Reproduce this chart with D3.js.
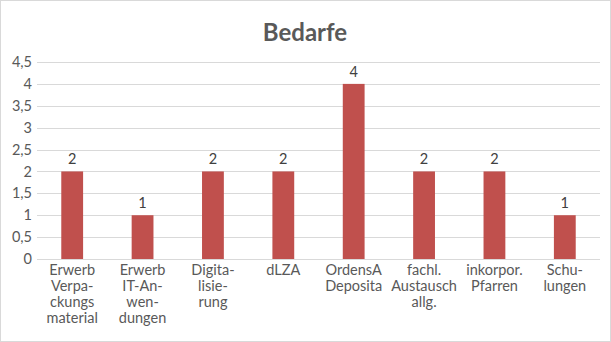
<!DOCTYPE html>
<html>
<head>
<meta charset="utf-8">
<script src="https://cdn.jsdelivr.net/npm/d3@7"></script>
<style>
  body { margin: 0; background: #fff; }
  svg { display: block; }
</style>
</head>
<body>
<svg id="chart" width="611" height="342"></svg>
<script>
var categories = ["Erwerb Verpackungsmaterial", "Erwerb IT-Anwendungen", "Digitalisierung", "dLZA",
    "OrdensA Deposita", "fachl. Austausch allg.", "inkorpor. Pfarren", "Schulungen"];
// wrapped label lines as they appear under the axis
var labelLines = [
    ["Erwerb", "Verpa-", "ckungs", "material"],
    ["Erwerb", "IT-An-", "wen-", "dungen"],
    ["Digita-", "lisie-", "rung"],
    ["dLZA"],
    ["OrdensA", "Deposita"],
    ["fachl.", "Austausch", "allg."],
    ["inkorpor.", "Pfarren"],
    ["Schu-", "lungen"]
];
var values = [2, 1, 2, 2, 4, 2, 2, 1];
var yTicks = [0, 0.5, 1, 1.5, 2, 2.5, 3, 3.5, 4, 4.5];

var svg = d3.select("#chart"), width = 611, height = 342;
var font = "Lato, 'Noto Sans', sans-serif";
var margin = {top: 62, right: 11, bottom: 83, left: 37};

svg.append("rect")
    .attr("x", 0.5).attr("y", 0.5)
    .attr("width", width - 1).attr("height", height - 1)
    .attr("fill", "#fff")
    .attr("stroke", "#d9d9d9");

svg.append("text")
    .attr("x", 305).attr("y", 41)
    .attr("text-anchor", "middle")
    .attr("font-family", font)
    .attr("font-size", 24)
    .attr("font-weight", "bold")
    .attr("fill", "#595959")
    .text("Bedarfe");

var x = d3.scaleBand()
    .domain(categories)
    .range([margin.left, width - margin.right])
    .paddingInner(0.69)
    .paddingOuter(0.345);

var y = d3.scaleLinear()
    .domain([0, 4.5])
    .range([height - margin.bottom, margin.top]);

var fmt = function (d) { return String(d).replace(".", ","); };

// gridlines
svg.append("g")
    .selectAll("line")
    .data(yTicks)
    .enter()
    .append("line")
    .attr("x1", margin.left).attr("x2", width - margin.right)
    .attr("y1", function (d) { return Math.round(y(d)) + 0.5; })
    .attr("y2", function (d) { return Math.round(y(d)) + 0.5; })
    .attr("stroke", "#d9d9d9")
    .attr("stroke-width", 1);

// y tick labels
svg.append("g")
    .selectAll("text")
    .data(yTicks)
    .enter()
    .append("text")
    .attr("x", margin.left - 5)
    .attr("y", function (d) { return y(d); })
    .attr("dy", "0.35em")
    .attr("text-anchor", "end")
    .attr("font-family", font)
    .attr("font-size", 14.5)
    .attr("fill", "#595959")
    .text(fmt);

// bars
svg.append("g")
    .selectAll("rect")
    .data(values)
    .enter()
    .append("rect")
    .attr("x", function (d, i) { return x(categories[i]); })
    .attr("y", function (d) { return y(d); })
    .attr("width", x.bandwidth())
    .attr("height", function (d) { return y(0) - y(d); })
    .attr("fill", "#c0504d");

// value labels
svg.append("g")
    .selectAll("text")
    .data(values)
    .enter()
    .append("text")
    .attr("x", function (d, i) { return x(categories[i]) + x.bandwidth() / 2; })
    .attr("y", function (d) { return y(d) - 7; })
    .attr("text-anchor", "middle")
    .attr("font-family", font)
    .attr("font-size", 14.5)
    .attr("fill", "#404040")
    .text(fmt);

// category labels
var catG = svg.append("g")
    .selectAll("text")
    .data(categories)
    .enter()
    .append("text")
    .attr("x", function (d) { return x(d) + x.bandwidth() / 2; })
    .attr("y", y(0) + 16)
    .attr("text-anchor", "middle")
    .attr("font-family", font)
    .attr("font-size", 14.5)
    .attr("fill", "#595959");

catG.selectAll("tspan")
    .data(function (d, i) { return labelLines[i]; })
    .enter()
    .append("tspan")
    .attr("x", function () { return +d3.select(this.parentNode).attr("x"); })
    .attr("dy", function (d, i) { return i === 0 ? 0 : 16; })
    .text(function (d) { return d; });
</script>
</body>
</html>
